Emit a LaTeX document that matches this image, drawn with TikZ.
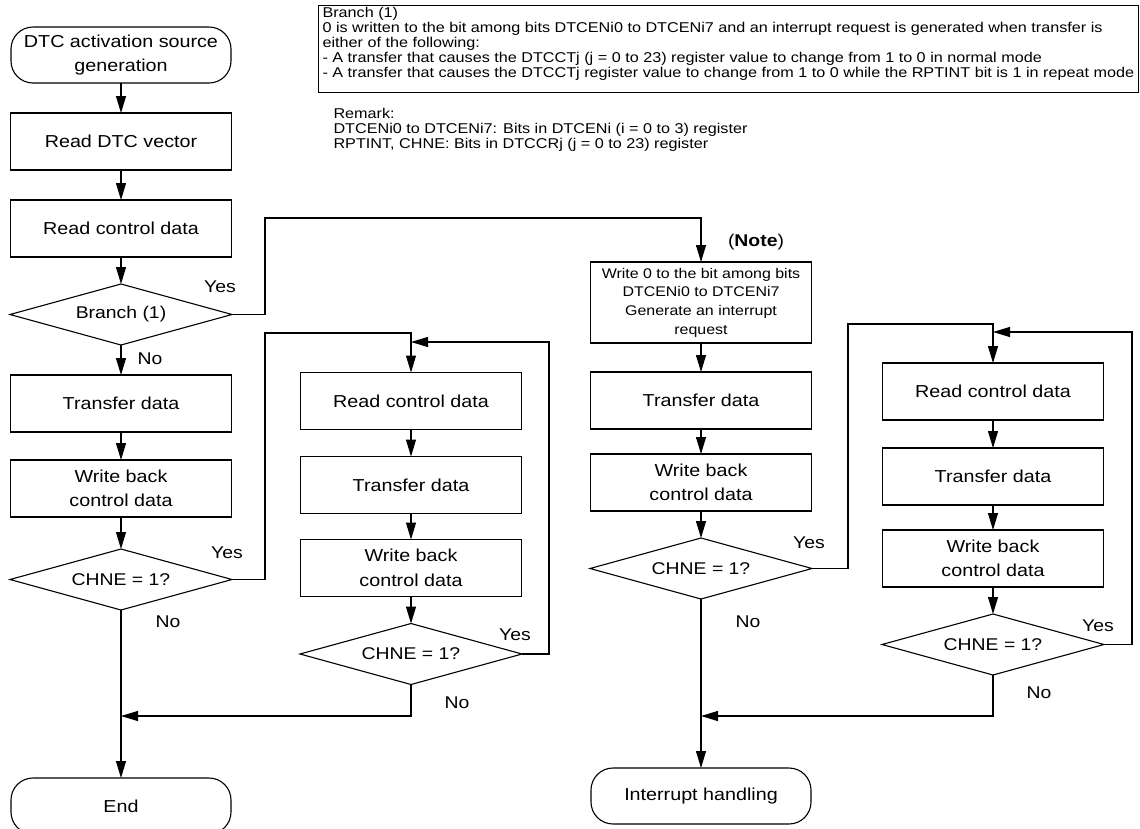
\documentclass[tikz,border=0pt]{standalone}
\usepackage{fontspec}
\setmainfont{Liberation Sans}[FakeStretch=1.14]
\usetikzlibrary{shapes,arrows.meta,positioning}

\begin{document}
\begin{tikzpicture}[x=1pt, y=-1pt, node distance=30pt, line width=1.1pt]
        \tikzstyle{block} = [rectangle, draw, minimum width=221pt, minimum height=57pt, inner sep=2pt, outer sep=0pt, align=center, font=\fontsize{17.3}{24.5}\selectfont]
        \tikzstyle{term} = [rectangle, draw, rounded corners=22pt, minimum width=220pt, minimum height=56pt, inner sep=0pt, outer sep=0pt, align=center, font=\fontsize{17.3}{24}\selectfont]
        \tikzstyle{decision} = [diamond, draw, aspect=3.64, minimum width=222pt, minimum height=61pt, inner sep=1pt, outer sep=0pt, font=\fontsize{17}{20}\selectfont]
        \tikzstyle{lbl} = [inner sep=0pt, font=\fontsize{17}{20}\selectfont]
        \tikzstyle{memo} = [inner sep=0pt, align=left, font=\fontsize{14.2}{15}\selectfont]
        \tikzstyle{line} = [draw, -{Triangle[length=17pt,width=10pt]}]

        \useasboundingbox (0,0) rectangle (1140,828);

        % condition box and remark
        \node [draw, minimum width=820pt, minimum height=87pt, anchor=north west] (condbox) at (318,5) {};
        \node [memo, anchor=north west] (condtext) at (322,7) {Branch (1)\\
            0 is written to the bit among bits DTCENi0 to DTCENi7 and an interrupt request is generated when transfer is\\
            either of the following:\\
            - A transfer that causes the DTCCTj (j = 0 to 23) register value to change from 1 to 0 in normal mode\\
            - A transfer that causes the DTCCTj register value to change from 1 to 0 while the RPTINT bit is 1 in repeat mode};
        \node [memo, anchor=north west] (remark) at (333,108) {Remark:\\
            DTCENi0 to DTCENi7: Bits in DTCENi (i = 0 to 3) register\\
            RPTINT, CHNE: Bits in DTCCRj (j = 0 to 23) register};

        % main flow
        \node [term] (start) at (121,55) {DTC activation source\\generation};
        \node [block, below=of start] (rdvec) {Read DTC vector};
        \node [block, below=of rdvec] (rdctl) {Read control data};
        \node [decision, below=27pt of rdctl] (branch) {Branch (1)};
        \node [block, below=of branch] (xfer) {Transfer data};
        \node [block, below=28pt of xfer] (wback) {Write back\\control data};
        \node [decision, below=32pt of wback] (chne) {CHNE = 1?};
        \node [term, below=168pt of chne] (finish) {End};

        % chain loop
        \node [block] (rdctlB) at (411,401) {Read control data};
        \node [block, below=27pt of rdctlB] (xferB) {Transfer data};
        \node [block, below=26pt of xferB] (wbackB) {Write back\\control data};
        \node [decision, below=27pt of wbackB] (chneB) {CHNE = 1?};

        % interrupt flow
        \node [block, minimum height=81pt, font=\fontsize{14}{18.7}\selectfont] (clear) at (701,302.5) {Write 0 to the bit among bits\\DTCENi0 to DTCENi7\\Generate an interrupt\\request};
        \node [lbl] (note) at (756,242) {(\textbf{Note})};
        \node [block, below=29pt of clear] (xferC) {Transfer data};
        \node [block, below=25pt of xferC] (wbackC) {Write back\\control data};
        \node [decision, below=27pt of wbackC] (chneC) {CHNE = 1?};
        \node [term, below=169pt of chneC] (intr) {Interrupt handling};

        % chain loop (interrupt side)
        \node [block] (rdctlD) at (993,391.5) {Read control data};
        \node [block, below=28pt of rdctlD] (xferD) {Transfer data};
        \node [block, below=25pt of xferD] (wbackD) {Write back\\control data};
        \node [decision, below=27pt of wbackD] (chneD) {CHNE = 1?};

        % junctions
        \coordinate (jclear) at (701,218);
        \coordinate (jloopB) at (411,333);
        \coordinate (jbackB) at (411,342);
        \coordinate (jend) at (121,716);
        \coordinate (jloopD) at (993,324);
        \coordinate (jbackD) at (993,332);
        \coordinate (jintr) at (701,716);

        \path [line] (start) -- (rdvec);
        \path [line] (rdvec) -- (rdctl);
        \path [line] (rdctl) -- (branch);
        \path [line] (branch) -- (xfer);
        \path [line] (xfer) -- (wback);
        \path [line] (wback) -- (chne);
        \path [line] (chne) -- (finish);
        \path [line] (branch.east) -- ++(33,0) |- (jclear) -- (clear.north);
        \path [line] (chne.east) -- ++(33,0) |- (jloopB) -- (rdctlB.north);
        \path [line] (rdctlB) -- (xferB);
        \path [line] (xferB) -- (wbackB);
        \path [line] (wbackB) -- (chneB);
        \path [line] (chneB.east) -- ++(27,0) |- (jbackB);
        \path [line] (chneB.south) |- (jend);

        \path [line] (clear) -- (xferC);
        \path [line] (xferC) -- (wbackC);
        \path [line] (wbackC) -- (chneC);
        \path [line] (chneC) -- (intr);
        \path [line] (chneC.east) -- ++(36,0) |- (jloopD) -- (rdctlD.north);
        \path [line] (rdctlD) -- (xferD);
        \path [line] (xferD) -- (wbackD);
        \path [line] (wbackD) -- (chneD);
        \path [line] (chneD.east) -- ++(28,0) |- (jbackD);
        \path [line] (chneD.south) |- (jintr);

        % branch labels
        \node [lbl] (yes1) at (220,287) {Yes};
        \node [lbl] (no1) at (150,359) {No};
        \node [lbl] (yes2) at (227,553) {Yes};
        \node [lbl] (no2) at (168,622) {No};
        \node [lbl] (yes3) at (515,635) {Yes};
        \node [lbl] (no3) at (457,703) {No};
        \node [lbl] (yes4) at (809,543) {Yes};
        \node [lbl] (no4) at (748,622) {No};
        \node [lbl] (yes5) at (1098,626) {Yes};
        \node [lbl] (no5) at (1039,693) {No};
\end{tikzpicture}
\end{document}
